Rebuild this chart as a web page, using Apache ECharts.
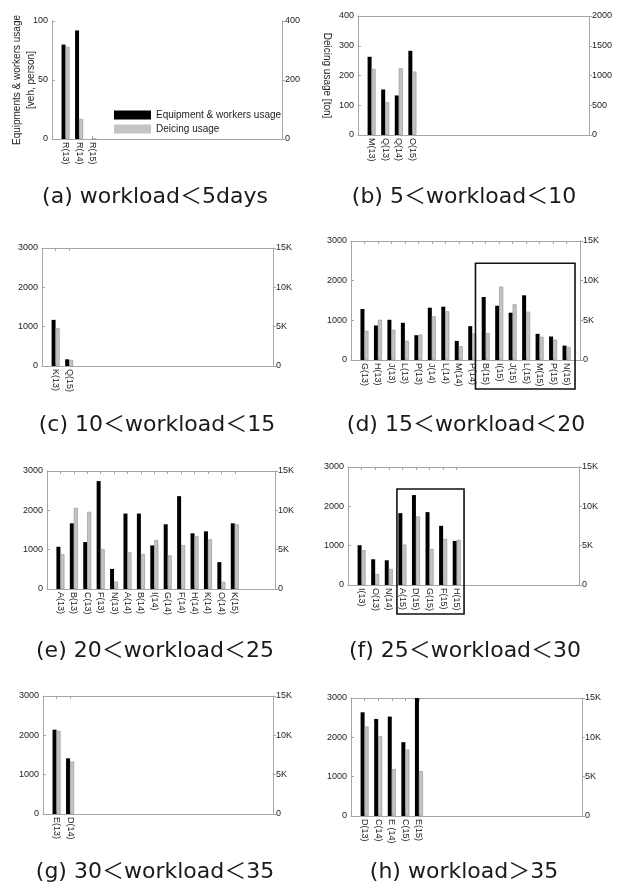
<!DOCTYPE html>
<html><head><meta charset="utf-8">
<script src="https://cdn.jsdelivr.net/npm/echarts@6/dist/echarts.min.js"></script>
<style>html,body{margin:0;padding:0;background:#fff}#c{width:620px;height:889px}</style>
</head><body><div id="c"></div>
<script>
// ---------- DATA ----------
// (a) workload < 5days
const catsA = ['R(13)', 'R(14)', 'R(15)'];
const equipA = [80, 92, 0];
const deicingA = [312, 68, 0];
// (b) 5 < workload < 10
const catsB = ['M(13)', 'Q(13)', 'Q(14)', 'O(15)'];
const equipB = [263, 153, 133, 283];
const deicingB = [1110, 550, 1120, 1065];
// (c) 10 < workload < 15
const catsC = ['K(13)', 'Q(15)'];
const equipC = [1173, 170];
const deicingC = [4800, 765];
// (d) 15 < workload < 20
const catsD = ['G(13)', 'H(13)', 'J(13)', 'L(13)', 'P(13)', 'J(14)', 'L(14)', 'M(14)', 'P(14)', 'B(15)', 'I(15)', 'J(15)', 'L(15)', 'M(15)', 'P(15)', 'N(15)'];
const equipD = [1285, 870, 1014, 938, 625, 1318, 1344, 482, 854, 1589, 1369, 1192, 1631, 659, 592, 363];
const deicingD = [3680, 5070, 3800, 2410, 3210, 5490, 6130, 1730, 3340, 3380, 9250, 7010, 6090, 2920, 2580, 1650];
// (e) 20 < workload < 25
const catsE = ['A(13)', 'B(13)', 'C(13)', 'F(13)', 'N(13)', 'A(14)', 'B(14)', 'I(14)', 'G(14)', 'F(14)', 'H(14)', 'K(14)', 'O(14)', 'K(15)'];
const equipE = [1074, 1670, 1193, 2744, 511, 1918, 1918, 1108, 1645, 2361, 1415, 1466, 682, 1670];
const deicingE = [4430, 10310, 9800, 5070, 940, 4650, 4430, 6220, 4260, 5580, 6730, 6310, 900, 8220];
// (f) 25 < workload < 30
const catsF = ['I(13)', 'O(13)', 'N(14)', 'A(15)', 'D(15)', 'G(15)', 'F(15)', 'H(15)'];
const equipF = [1011, 654, 629, 1827, 2286, 1853, 1504, 1122];
const deicingF = [4420, 1400, 2040, 5140, 8710, 4590, 5860, 5740];
// (g) 30 < workload < 35
const catsG = ['E(13)', 'D(14)'];
const equipG = [2144, 1415];
const deicingG = [10550, 6650];
// (h) workload > 35
const catsH = ['D(13)', 'C(14)', 'E (14)', 'C(15)', 'E(15)'];
const equipH = [2637, 2468, 2527, 1876, 3000];
const deicingH = [11370, 10140, 5960, 8450, 5700];

const captions = ['(a) workload＜5days', '(b) 5＜workload＜10', '(c) 10＜workload＜15', '(d) 15＜workload＜20',
  '(e) 20＜workload＜25', '(f) 25＜workload＜30', '(g) 30＜workload＜35', '(h) workload＞35'];
const seriesNames = ['Equipment & workers usage', 'Deicing usage'];
const leftTicks = [[0, 100, 50], [0, 400, 100], [0, 3000, 1000]];   // min, max, interval
const rightTicks = [[0, 400, 200], [0, 2000, 500], [0, 15000, 5000]];
// highlighted groups [x from, x to, top value]
const boxD = [9.24, 16.63, 2440];
const boxF = [3.6, 8.54, 2440];

// ---------- LAYOUT ----------
const panels = [
  {cats: catsA, a: equipA, b: deicingA, g: [52, 21, 230, 118], L: 0, R: 0, top: false, topTicks: false, cap: [155, 197]},
  {cats: catsB, a: equipB, b: deicingB, g: [358, 16, 231, 119], L: 1, R: 1, top: true, topTicks: false, cap: [464, 197]},
  {cats: catsC, a: equipC, b: deicingC, g: [42, 248, 231, 118], L: 2, R: 2, top: true, topTicks: true, cap: [157, 425]},
  {cats: catsD, a: equipD, b: deicingD, g: [351, 241, 229, 119], L: 2, R: 2, top: true, topTicks: true, cap: [466, 425]},
  {cats: catsE, a: equipE, b: deicingE, g: [47, 471, 228, 118], L: 2, R: 2, top: true, topTicks: true, cap: [155, 651]},
  {cats: catsF, a: equipF, b: deicingF, g: [348, 467, 231, 118], L: 2, R: 2, top: true, topTicks: true, cap: [465, 651]},
  {cats: catsG, a: equipG, b: deicingG, g: [43, 696, 230, 118], L: 2, R: 2, top: true, topTicks: true, cap: [155, 872]},
  {cats: catsH, a: equipH, b: deicingH, g: [351, 698, 231, 118], L: 2, R: 2, top: true, topTicks: true, cap: [464, 872]}
];

const GRAY = '#a6a6a6';
const TXT = '#222';
const FONT = 'Liberation Sans, Arial, sans-serif';
const grids = [], xAxes = [], yAxes = [], series = [], graphics = [];

function kfmt(v) { return v === 0 ? '0' : (v / 1000) + 'K'; }
function plain(v) { return String(v); }

panels.forEach((p, i) => {
  grids.push({left: p.g[0], top: p.g[1], width: p.g[2], height: p.g[3], containLabel: false});
  const ticks = p.cats.map((c, k) => k + 1);
  xAxes.push({
    gridIndex: i, type: 'value', min: 0, max: 17, position: 'bottom',
    axisLine: {show: true, onZero: false, lineStyle: {color: GRAY, width: 1}},
    axisTick: {show: true, inside: true, length: 3, customValues: ticks, lineStyle: {color: GRAY}},
    axisLabel: {show: true, customValues: ticks, rotate: -90, margin: 3, fontSize: 9, color: TXT, fontFamily: FONT,
      formatter: v => p.cats[Math.round(v) - 1] || ''},
    splitLine: {show: false}
  });
  xAxes.push({
    gridIndex: i, type: 'value', min: 0, max: 17, position: 'top',
    axisLine: {show: p.top, onZero: false, lineStyle: {color: GRAY, width: 1}},
    axisTick: {show: p.topTicks, inside: true, length: 3, customValues: ticks, lineStyle: {color: GRAY}},
    axisLabel: {show: false}, splitLine: {show: false}
  });
  const lt = leftTicks[p.L], rt = rightTicks[p.R];
  const ly = {
    gridIndex: i, type: 'value', position: 'left', min: lt[0], max: lt[1], interval: lt[2],
    axisLine: {show: true, onZero: false, lineStyle: {color: GRAY, width: 1}},
    axisTick: {show: true, inside: true, length: 3, lineStyle: {color: GRAY}},
    axisLabel: {fontSize: 9, color: TXT, margin: 4, fontFamily: FONT, formatter: plain},
    splitLine: {show: false}
  };
  if (i === 0) {
    ly.name = 'Equipments & workers usage\n[veh, person]';
    ly.nameLocation = 'middle'; ly.nameGap = 14; ly.nameMoveOverlap = false;
    ly.nameTextStyle = {fontSize: 10, color: TXT, lineHeight: 14, fontFamily: FONT};
  }
  if (i === 1) {
    ly.name = 'Deicing usage [ton]';
    ly.nameLocation = 'middle'; ly.nameGap = 26; ly.nameRotate = -90; ly.nameMoveOverlap = false;
    ly.nameTextStyle = {fontSize: 10, color: TXT, fontFamily: FONT};
  }
  yAxes.push(ly);
  yAxes.push({
    gridIndex: i, type: 'value', position: 'right', min: rt[0], max: rt[1], interval: rt[2],
    axisLine: {show: true, onZero: false, lineStyle: {color: GRAY, width: 1}},
    axisTick: {show: true, inside: false, length: 3, lineStyle: {color: GRAY}},
    axisLabel: {fontSize: 9, color: TXT, margin: 3, fontFamily: FONT, formatter: p.R === 2 ? kfmt : plain},
    splitLine: {show: false}
  });
  series.push({
    name: seriesNames[0], type: 'bar', xAxisIndex: 2 * i, yAxisIndex: 2 * i,
    data: p.a.map((v, k) => [k + 1, v]), barWidth: 4, barGap: '0%',
    itemStyle: {color: '#000'}, animation: false
  });
  series.push({
    name: seriesNames[1], type: 'bar', xAxisIndex: 2 * i, yAxisIndex: 2 * i + 1,
    data: p.b.map((v, k) => [k + 1, v]), barWidth: 4, barGap: '0%',
    itemStyle: {color: '#c4c4c4', borderColor: '#8e8e8e', borderWidth: 0.6}, animation: false
  });
  graphics.push({
    type: 'text', x: p.cap[0], y: p.cap[1],
    style: {text: captions[i], fontSize: 22, fontFamily: 'DejaVu Sans, Noto Sans CJK KR', fill: '#1a1a1a', align: 'center', verticalAlign: 'middle'}
  });
});

const chart = echarts.init(document.getElementById('c'), null, {renderer: 'canvas'});
chart.setOption({
  animation: false,
  backgroundColor: '#fff',
  grid: grids, xAxis: xAxes, yAxis: yAxes, series: series,
  legend: {
    data: seriesNames, orient: 'vertical', left: 109, top: 105, itemWidth: 37, itemHeight: 9, itemGap: 4,
    icon: 'rect', selectedMode: false, itemStyle: {borderWidth: 0},
    textStyle: {fontSize: 10, color: TXT, fontFamily: FONT}
  },
  graphic: graphics
});

function boxRect(panelIdx, box) {
  const f = {xAxisIndex: 2 * panelIdx, yAxisIndex: 2 * panelIdx};
  const p1 = chart.convertToPixel(f, [box[0], box[2]]);
  const p2 = chart.convertToPixel(f, [box[1], 0]);
  return {type: 'rect', shape: {x: p1[0], y: p1[1], width: p2[0] - p1[0], height: p2[1] + 29 - p1[1]},
    style: {fill: 'none', stroke: '#111', lineWidth: 1.6}, z: 100};
}
chart.setOption({graphic: graphics.concat([boxRect(3, boxD), boxRect(5, boxF)])});
</script></body></html>
